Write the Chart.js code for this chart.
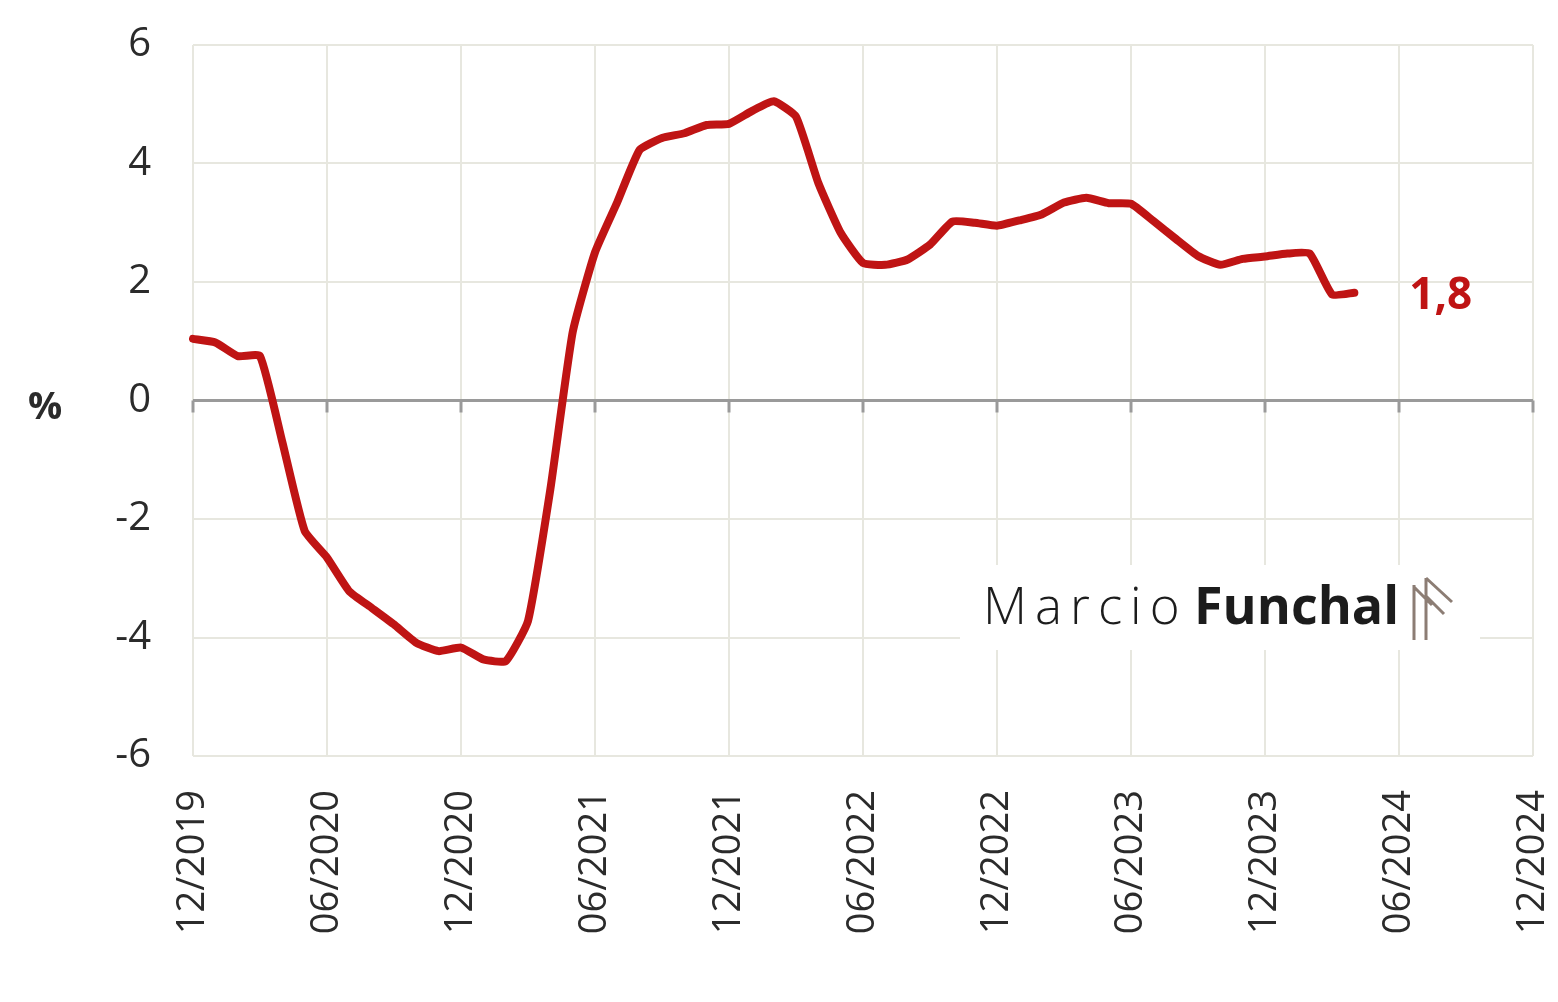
<!DOCTYPE html>
<html>
<head>
<meta charset="utf-8">
<script src="https://cdn.jsdelivr.net/npm/chart.js@4/dist/chart.umd.min.js"></script>
<style>
  body { margin: 0; background: #fff; }
  canvas { display: block; }
</style>
</head>
<body>
<canvas id="myChart" width="1558" height="1002"></canvas>
<script>
// meses (12/2019 .. 12/2024)
const months = [
  "12/2019","01/2020","02/2020","03/2020","04/2020","05/2020","06/2020","07/2020","08/2020","09/2020","10/2020","11/2020",
  "12/2020","01/2021","02/2021","03/2021","04/2021","05/2021","06/2021","07/2021","08/2021","09/2021","10/2021","11/2021",
  "12/2021","01/2022","02/2022","03/2022","04/2022","05/2022","06/2022","07/2022","08/2022","09/2022","10/2022","11/2022",
  "12/2022","01/2023","02/2023","03/2023","04/2023","05/2023","06/2023","07/2023","08/2023","09/2023","10/2023","11/2023",
  "12/2023","01/2024","02/2024","03/2024","04/2024","05/2024","06/2024","07/2024","08/2024","09/2024","10/2024","11/2024",
  "12/2024"
];
// rótulos do eixo x
const tickLabels = ["12/2019","06/2020","12/2020","06/2021","12/2021","06/2022","12/2022","06/2023","12/2023","06/2024","12/2024"];
// valores (%)
const values = [
  1.04, 0.98, 0.75, 0.75, -0.70, -2.20, -2.65, -3.22, -3.50, -3.78, -4.09, -4.23,
  -4.17, -4.37, -4.40, -3.72, -1.50, 1.15, 2.50, 3.35, 4.23, 4.43, 4.51, 4.65,
  4.67, 4.88, 5.05, 4.79, 3.67, 2.83, 2.32, 2.29, 2.38, 2.63, 3.02, 3.00,
  2.95, 3.04, 3.14, 3.34, 3.42, 3.33, 3.32, 3.03, 2.73, 2.44, 2.29, 2.39,
  2.43, 2.48, 2.48, 1.79, 1.82
];
const yTicks = [-6, -4, -2, 0, 2, 4, 6];
const lastLabel = "1,8";

const lineColor = '#bf1414';
const gridColor = '#e7e7df';
const textColor = '#2b2b2b';
const fontFamily = "'Open Sans', 'DejaVu Sans', sans-serif";

// extras: "%", marcas no zero, rótulo final, marca d'água
const extrasPlugin = {
  id: 'extras',
  beforeDatasetsDraw(chart) {
    const c = chart.ctx;
    const x = chart.scales.x, y = chart.scales.y;
    const y0 = y.getPixelForValue(0);
    // marcas no eixo zero
    c.save();
    c.strokeStyle = '#9a9a9a';
    c.lineWidth = 3;
    for (let i = 0; i < months.length; i += 6) {
      const px = x.getPixelForValue(i);
      c.beginPath();
      c.moveTo(px, y0);
      c.lineTo(px, y0 + 12);
      c.stroke();
    }
    // marca d'água
    c.fillStyle = '#fff';
    c.fillRect(960, 565, 520, 85);
    c.textBaseline = 'alphabetic';
    c.fillStyle = '#1c1c1c';
    c.font = "300 51px " + fontFamily;
    c.letterSpacing = '8px';
    c.textAlign = 'left';
    c.fillText('Marcio', 983, 624);
    c.letterSpacing = '0px';
    c.font = "bold 52px " + fontFamily;
    c.fillText('Funchal', 1194, 624);
    // logo
    c.strokeStyle = '#8c7d74';
    c.lineWidth = 3;
    c.beginPath();
    c.moveTo(1414, 640); c.lineTo(1414, 585);
    c.moveTo(1414, 587); c.lineTo(1432, 605);
    c.moveTo(1426, 640); c.lineTo(1426, 578);
    c.moveTo(1426, 578); c.lineTo(1452, 602);
    c.moveTo(1426, 596); c.lineTo(1444, 614);
    c.stroke();
    c.restore();
  },
  afterDraw(chart) {
    const c = chart.ctx;
    const y = chart.scales.y;
    c.save();
    c.fillStyle = textColor;
    c.font = "bold 38px " + fontFamily;
    c.textAlign = 'center';
    c.textBaseline = 'middle';
    c.fillText('%', 45, y.getPixelForValue(0) + 8);
    // rótulo do último valor
    const meta = chart.getDatasetMeta(0);
    const last = meta.data[meta.data.length - 1];
    c.fillStyle = lineColor;
    c.font = "bold 44px " + fontFamily;
    c.textAlign = 'left';
    c.fillText(lastLabel, last.x + 55, last.y + 4);
    c.restore();
  }
};

let ctx = document.getElementById('myChart').getContext('2d');
let myChart = new Chart(ctx, {
  type: 'line',
  data: {
    labels: months,
    datasets: [{
      data: values,
      borderColor: lineColor,
      borderWidth: 8,
      pointRadius: 0,
      tension: 0.15,
      borderJoinStyle: 'round',
      borderCapStyle: 'round',
      fill: false
    }]
  },
  options: {
    responsive: false,
    animation: false,
    layout: { padding: { top: 45, right: 25, left: 0, bottom: 0 } },
    plugins: { legend: { display: false }, tooltip: { enabled: false } },
    scales: {
      x: {
        offset: false,
        border: { display: false },
        grid: {
          drawTicks: false,
          lineWidth: 2,
          color: function (c) { return c.index % 6 === 0 ? gridColor : 'rgba(0,0,0,0)'; }
        },
        ticks: {
          autoSkip: false,
          maxRotation: 90,
          minRotation: 90,
          padding: 34,
          color: textColor,
          font: { family: fontFamily, size: 38 },
          callback: function (val, idx) {
            const lab = months[idx];
            return tickLabels.includes(lab) ? lab : '';
          }
        },
        afterFit: function (scale) {
          scale.height = 246;
          scale.paddingLeft = 0;
          scale.paddingRight = 0;
        }
      },
      y: {
        min: -6,
        max: 6,
        border: { display: false },
        afterBuildTicks: function (scale) { scale.ticks = yTicks.map(v => ({ value: v })); },
        grid: {
          drawTicks: false,
          lineWidth: function (c) { return c.tick && c.tick.value === 0 ? 3 : 2; },
          color: function (c) { return c.tick && c.tick.value === 0 ? '#9a9a9a' : gridColor; }
        },
        ticks: {
          padding: 42,
          color: textColor,
          font: { family: fontFamily, size: 40 }
        },
        afterFit: function (scale) {
          scale.width = 193;
          scale.paddingTop = 0;
          scale.paddingBottom = 0;
        }
      }
    }
  },
  plugins: [extrasPlugin]
});
</script>
</body>
</html>
